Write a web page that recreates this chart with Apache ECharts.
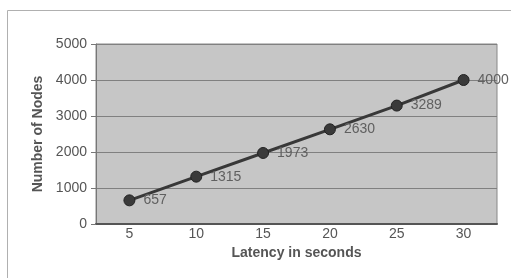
<!DOCTYPE html>
<html>
<head>
<meta charset="utf-8">
<script src="https://cdn.jsdelivr.net/npm/echarts@6/dist/echarts.min.js"></script>
<style>
  html, body { margin: 0; padding: 0; background: #fff; }
  #chart { width: 511px; height: 278px; }
</style>
</head>
<body>
<div id="chart"></div>
<script>
// latency (s) on x, node count on y
const latency = ['5', '10', '15', '20', '25', '30'];
const nodes = [657, 1315, 1973, 2630, 3289, 4000];

const chart = echarts.init(document.getElementById('chart'));

const option = {
  backgroundColor: '#fff',
  animation: false,
  graphic: [
    {
      type: 'rect',
      shape: { x: 7.5, y: 10.5, width: 600, height: 400 },
      style: { fill: 'none', stroke: '#b0b0b0', lineWidth: 1 },
      silent: true
    }
  ],
  grid: {
    left: 96,
    top: 44,
    right: 14,
    bottom: 54,
    show: true,
    backgroundColor: '#c6c6c6',
    borderColor: '#888',
    borderWidth: 1
  },
  xAxis: {
    type: 'category',
    data: latency,
    name: 'Latency in seconds',
    nameLocation: 'middle',
    nameGap: 20,
    nameTextStyle: {
      fontFamily: 'Liberation Sans',
      fontWeight: 'bold',
      fontSize: 14,
      color: '#555'
    },
    axisLine: { lineStyle: { color: '#555', width: 2 } },
    axisTick: { show: false },
    axisLabel: {
      fontFamily: 'Liberation Sans',
      fontSize: 14,
      color: '#555',
      margin: 3
    }
  },
  yAxis: {
    type: 'value',
    min: 0,
    max: 5000,
    interval: 1000,
    name: 'Number of Nodes',
    nameLocation: 'middle',
    nameGap: 45,
    nameTextStyle: {
      fontFamily: 'Liberation Sans',
      fontWeight: 'bold',
      fontSize: 14,
      color: '#555'
    },
    axisLine: { show: true, lineStyle: { color: '#777' } },
    axisTick: { show: true, length: 5, lineStyle: { color: '#777' } },
    axisLabel: {
      fontFamily: 'Liberation Sans',
      fontSize: 14,
      color: '#555',
      margin: 9,
      formatter: v => String(v)
    },
    splitLine: { lineStyle: { color: '#808080', width: 1 } }
  },
  series: [
    {
      type: 'line',
      data: nodes,
      symbol: 'circle',
      symbolSize: 11,
      itemStyle: { color: '#3a3a3a', borderColor: '#222', borderWidth: 1 },
      lineStyle: { color: '#383838', width: 3 },
      label: {
        show: true,
        position: 'right',
        distance: 8,
        fontFamily: 'Liberation Sans',
        fontSize: 14,
        color: '#606060'
      }
    }
  ]
};

chart.setOption(option);
</script>
</body>
</html>
